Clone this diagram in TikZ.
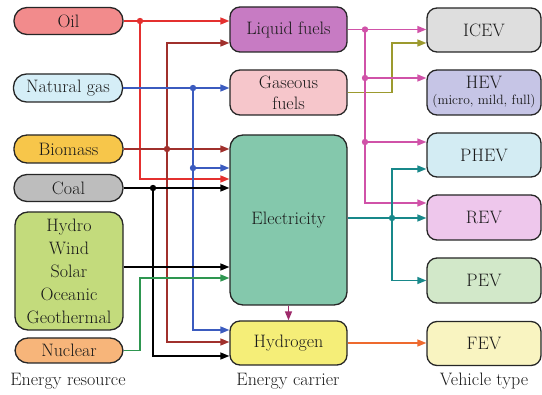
\documentclass[tikz,border=0pt]{standalone}
\usetikzlibrary{arrows.meta}
\definecolor{txt}{HTML}{1A1A1A}
\definecolor{oilF}{HTML}{F28B8C}\definecolor{cOil}{HTML}{E4302F}
\definecolor{gasF}{HTML}{D5EEF7}\definecolor{cGas}{HTML}{3B5BBF}
\definecolor{bioF}{HTML}{F7C64A}\definecolor{cBio}{HTML}{A0302C}
\definecolor{coalF}{HTML}{BDBDBD}
\definecolor{renF}{HTML}{C3DB7C}
\definecolor{nucF}{HTML}{F7B57A}\definecolor{cNuc}{HTML}{2E9650}
\definecolor{liqF}{HTML}{C77BC3}\definecolor{cLiq}{HTML}{D052A8}
\definecolor{gfF}{HTML}{F6C6CB}\definecolor{cGf}{HTML}{9C9A2E}
\definecolor{elF}{HTML}{84C8AC}\definecolor{cEl}{HTML}{18888A}
\definecolor{hyF}{HTML}{F5EE78}\definecolor{cH}{HTML}{EE6A2E}
\definecolor{cEH}{HTML}{9E2B6B}
\definecolor{icevF}{HTML}{DEDEDE}\definecolor{hevF}{HTML}{C6C5E6}
\definecolor{phevF}{HTML}{D3ECF3}\definecolor{revF}{HTML}{EEC7EC}
\definecolor{pevF}{HTML}{D2E8C9}\definecolor{fevF}{HTML}{F9F4C1}
\begin{document}
\begin{tikzpicture}[x=1pt,y=-1pt,
  box/.style={draw=black!85, line width=1.3pt, rounded corners=10pt, align=center,
    inner sep=0pt, text=txt, font=\fontsize{18}{21}\selectfont},
  pill/.style={box, rounded corners=13pt, minimum width=109pt, minimum height=27pt},
  mid/.style={box, minimum width=117pt, minimum height=45pt},
  veh/.style={box, minimum width=114pt, minimum height=44pt},
  ln/.style={line width=1.5pt, -{Triangle[length=9pt,width=7pt]}},
  jdot/.style={radius=3.2pt},
  lbl/.style={text=txt, font=\fontsize{18}{21}\selectfont, inner sep=0pt}]
\useasboundingbox (0,0) rectangle (542,395);
% bus x-positions and row levels
\coordinate (bO) at (140,0);
\coordinate (bC) at (153,0);
\coordinate (bB) at (167,0);
\coordinate (bN) at (193,0);
\coordinate (bL) at (365,0);
\coordinate (bG) at (392,0);
\coordinate (y43) at (0,43);
\coordinate (y78) at (0,78);
\coordinate (y142) at (0,142);
\coordinate (y168) at (0,168);
\coordinate (y169) at (0,169);
\coordinate (y179) at (0,179);
\coordinate (y203) at (0,203);
\coordinate (y218) at (0,218);
\coordinate (y267) at (0,267);
\coordinate (y278) at (0,278);
\coordinate (y330) at (0,330);
\coordinate (y342) at (0,342);
\coordinate (y356) at (0,356);
% energy resources
\node[pill, fill=oilF] (oil) at (68.5,21) {Oil};
\node[pill, fill=gasF, minimum height=28pt] (gas) at (68,88) {Natural gas};
\node[pill, fill=bioF, minimum height=28pt] (bio) at (68.5,149) {Biomass};
\node[pill, fill=coalF] (coal) at (68.5,188) {Coal};
\node[box, fill=renF, minimum width=108pt, minimum height=118pt, rounded corners=13pt,
  font=\fontsize{18}{23}\selectfont] (ren) at (69,271) {Hydro\\Wind\\Solar\\Oceanic\\Geothermal};
\node[pill, fill=nucF, minimum height=25pt, minimum width=108pt] (nuc) at (69,350.5) {Nuclear};
% carriers
\node[mid, fill=liqF] (liq) at (288.5,29.5) {Liquid fuels};
\node[mid, fill=gfF, font=\fontsize{18}{21}\selectfont] (gf) at (288.5,92.5) {Gaseous\\fuels};
\node[mid, fill=elF, minimum height=170pt, rounded corners=13pt] (elec) at (288.5,220) {Electricity};
\node[mid, fill=hyF, minimum height=44pt] (hyd) at (288.5,343) {Hydrogen};
% vehicles
\node[veh, fill=icevF] (icev) at (484,30) {ICEV};
\node[veh, fill=hevF, minimum height=45pt] (hev) at (484,92.5) {HEV\\[-5pt]{\fontsize{13.5}{15}\selectfont (micro, mild, full)}};
\node[veh, fill=phevF] (phev) at (484,155) {PHEV};
\node[veh, fill=revF, minimum height=45pt] (rev) at (484,217.5) {REV};
\node[veh, fill=pevF, minimum height=45pt] (pev) at (484,280.5) {PEV};
\node[veh, fill=fevF] (fev) at (484,343.5) {FEV};
% labels
\node[lbl] (l1) at (68,381) {Energy resource};
\node[lbl] (l2) at (288,381) {Energy carrier};
\node[lbl] (l3) at (484,381) {Vehicle type};
% oil
\draw[ln, cOil] (oil.east) -- (oil.east -| liq.west);
\draw[ln, cOil] (oil.east -| bO) |- (y179 -| elec.west);
\fill[cOil] (oil.east -| bO) circle[jdot];
% biomass
\draw[ln, cBio] (bio.east) -- (bio.east -| elec.west);
\draw[ln, cBio] (bio.east -| bB) |- (y43 -| liq.west);
\draw[ln, cBio] (bio.east -| bB) |- (y342 -| hyd.west);
\fill[cBio] (bio.east -| bB) circle[jdot];
% natural gas
\draw[ln, cGas] (gas.east) -- (gas.east -| gf.west);
\draw[ln, cGas] (gas.east -| bN) |- (y330 -| hyd.west);
\draw[ln, cGas] (y168 -| bN) -- (y168 -| elec.west);
\fill[cGas] (gas.east -| bN) circle[jdot];
\fill[cGas] (y168 -| bN) circle[jdot];
% coal
\draw[ln, black] (coal.east) -- (coal.east -| elec.west);
\draw[ln, black] (coal.east -| bC) |- (y356 -| hyd.west);
\fill[black] (coal.east -| bC) circle[jdot];
% renewables, nuclear
\draw[ln, black] (ren.east |- y267) -- (y267 -| elec.west);
\draw[ln, cNuc] (nuc.east) -| (bO |- y278) -- (y278 -| elec.west);
% carriers to vehicles
\draw[ln, cEH] (elec.south) -- (hyd.north);
\draw[ln, cH] (hyd.east) -- (hyd.east -| fev.west);
\draw[ln, cGf] (gf.east) -| (bG |- y43) -- (y43 -| icev.west);
\draw[ln, cLiq] (liq.east) -- (liq.east -| icev.west);
\draw[ln, cLiq] (liq.east -| bL) |- (y203 -| rev.west);
\draw[ln, cLiq] (y78 -| bL) -- (y78 -| hev.west);
\draw[ln, cLiq] (y142 -| bL) -- (y142 -| phev.west);
\fill[cLiq] (liq.east -| bL) circle[jdot];
\fill[cLiq] (y78 -| bL) circle[jdot];
\fill[cLiq] (y142 -| bL) circle[jdot];
\draw[ln, cEl] (elec.east |- y218) -- (y218 -| rev.west);
\draw[ln, cEl] (y218 -| bG) |- (y169 -| phev.west);
\draw[ln, cEl] (y218 -| bG) |- (pev.west);
\fill[cEl] (y218 -| bG) circle[jdot];
\end{tikzpicture}
\end{document}
